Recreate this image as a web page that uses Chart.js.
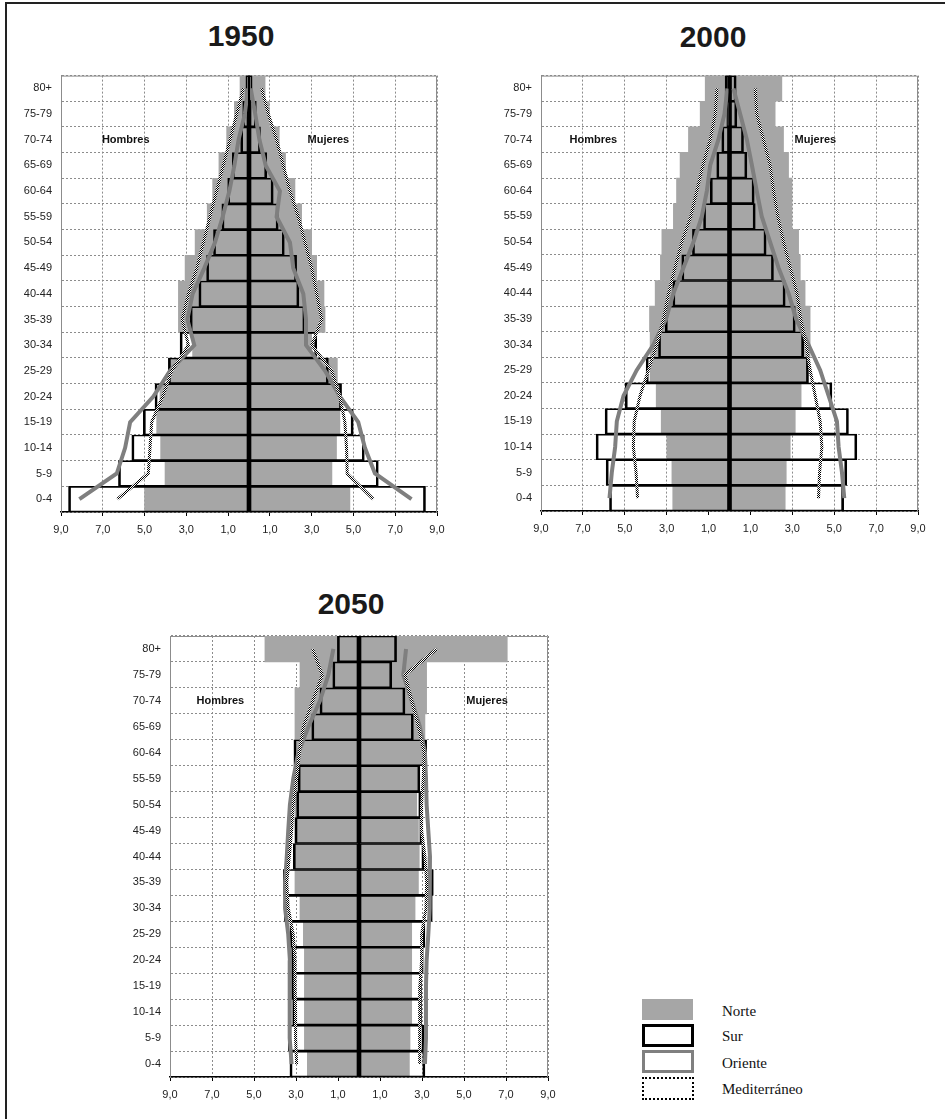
<!DOCTYPE html>
<html>
<head>
<meta charset="utf-8">
<script src="https://cdn.jsdelivr.net/npm/chart.js@4.4.1/dist/chart.umd.min.js"></script>
<style>
  body { margin: 0; background: #fff; }
  #page { position: relative; width: 945px; height: 1119px; overflow: hidden; background: #fff; }
  #frame { position: absolute; left: 5px; top: 2px; width: 960px; height: 1140px; border-left: 2px solid #222; border-top: 2px solid #222; }
  canvas { position: absolute; }
  .title { position: absolute; width: 200px; text-align: center; font: bold 30px "Liberation Sans", Arial, sans-serif; color: #1a1a1a; line-height: 36px; }
  .sw { position: absolute; left: 642px; width: 52px; height: 23px; box-sizing: border-box; }
  .lt { position: absolute; left: 722px; font: 15px "Liberation Serif", "Times New Roman", serif; color: #111; line-height: 20px; }
</style>
</head>
<body>
<div id="page">
  <div id="frame"></div>
  <div class="title" style="left:141px;top:18px">1950</div>
  <div class="title" style="left:613px;top:19px">2000</div>
  <div class="title" style="left:251px;top:586px">2050</div>

  <canvas id="c1950" width="460" height="480" style="left:0;top:60px"></canvas>
  <canvas id="c2000" width="470" height="480" style="left:470px;top:60px"></canvas>
  <canvas id="c2050" width="460" height="490" style="left:110px;top:620px"></canvas>

  <div class="sw" style="top:999px;height:21px;width:51px;background:#a6a6a6"></div>
  <div class="lt" style="top:1001px">Norte</div>
  <div class="sw" style="top:1024px;border:3px solid #000;background:#fff"></div>
  <div class="lt" style="top:1026px">Sur</div>
  <div class="sw" style="top:1050px;border:3px solid #808080;background:#fff"></div>
  <div class="lt" style="top:1053px">Oriente</div>
  <div class="sw" style="top:1077px;border:2px dotted #000;background:#fff"></div>
  <div class="lt" style="top:1079px">Mediterráneo</div>
</div>

<script>
// age groups, top of the pyramid first
const ages = ['80+', '75-79', '70-74', '65-69', '60-64', '55-59', '50-54', '45-49', '40-44',
              '35-39', '30-34', '25-29', '20-24', '15-19', '10-14', '5-9', '0-4'];
const xTicks = [-9, -7, -5, -3, -1, 1, 3, 5, 7, 9];

// ── 1950 (% of population, H = hombres, M = mujeres) ──
const norte1950H = [0.43, 0.70, 1.07, 1.44, 1.74, 2.00, 2.58, 3.06, 3.38, 3.38, 2.70, 3.85, 4.26, 4.42, 4.23, 4.02, 5.00];
const norte1950M = [0.77, 0.97, 1.45, 1.75, 2.20, 2.52, 3.00, 3.24, 3.59, 3.64, 3.00, 4.23, 4.43, 4.35, 4.19, 3.97, 4.83];
const sur1950H = [0.15, 0.30, 0.40, 0.80, 1.02, 1.30, 1.70, 2.03, 2.40, 2.82, 3.30, 3.86, 4.50, 5.06, 5.61, 6.25, 8.64];
const sur1950M = [0.15, 0.35, 0.55, 0.85, 1.16, 1.40, 1.69, 2.28, 2.39, 2.68, 3.24, 3.80, 4.43, 4.99, 5.52, 6.19, 8.45];
const oriente1950H = [0.05, 0.20, 0.50, 0.70, 0.94, 1.26, 1.63, 2.14, 2.70, 2.95, 2.62, 3.78, 4.58, 5.69, 5.93, 6.33, 8.12];
const oriente1950M = [0.08, 0.30, 0.50, 0.80, 1.48, 1.32, 1.96, 2.12, 2.60, 2.73, 2.73, 3.64, 4.35, 5.23, 5.55, 6.03, 7.78];
const medit1950H = [0.27, 0.59, 0.91, 1.23, 1.55, 1.87, 2.18, 2.50, 2.90, 3.20, 2.90, 3.70, 4.13, 4.66, 4.74, 4.82, 6.30];
const medit1950M = [0.60, 0.93, 1.32, 1.64, 1.96, 2.36, 2.68, 3.00, 3.24, 3.48, 3.00, 3.96, 4.35, 4.59, 4.67, 4.70, 5.95];

// ── 2000 ──
const norte2000H = [1.16, 1.40, 1.96, 2.36, 2.53, 2.68, 3.23, 3.30, 3.55, 3.82, 3.79, 3.79, 3.50, 3.26, 2.99, 2.75, 2.71];
const norte2000M = [2.50, 2.18, 2.58, 2.82, 2.98, 2.98, 3.30, 3.38, 3.61, 3.85, 3.85, 3.77, 3.42, 3.14, 2.90, 2.71, 2.66];
const sur2000H = [0.21, 0.13, 0.37, 0.61, 0.92, 1.24, 1.77, 2.28, 2.71, 3.07, 3.39, 3.98, 4.98, 5.94, 6.37, 5.89, 5.73];
const sur2000M = [0.32, 0.35, 0.67, 0.83, 1.18, 1.23, 1.75, 2.10, 2.66, 3.14, 3.54, 3.77, 4.89, 5.68, 6.08, 5.60, 5.45];
const oriente2000H = [0.10, 0.24, 0.53, 0.92, 1.08, 1.32, 1.72, 2.20, 2.68, 3.03, 3.63, 4.43, 5.06, 5.38, 5.46, 5.62, 5.73];
const oriente2000M = [0.19, 0.51, 0.83, 1.07, 1.30, 1.54, 1.94, 2.34, 2.82, 3.18, 3.77, 4.33, 4.73, 5.13, 5.21, 5.37, 5.48];
const medit2000H = [0.60, 0.68, 0.92, 1.27, 1.56, 1.85, 2.28, 2.60, 2.91, 3.15, 3.47, 3.87, 4.27, 4.55, 4.59, 4.46, 4.39];
const medit2000M = [1.23, 1.30, 1.62, 1.94, 2.10, 2.31, 2.58, 2.90, 3.22, 3.40, 3.66, 3.85, 4.09, 4.33, 4.41, 4.30, 4.25];

// ── 2050 ──
const norte2050H = [4.48, 2.81, 3.05, 3.05, 3.05, 3.05, 3.05, 3.05, 3.05, 3.05, 2.81, 2.65, 2.60, 2.60, 2.60, 2.60, 2.46];
const norte2050M = [7.06, 3.22, 3.22, 3.14, 3.06, 2.83, 2.75, 2.83, 2.87, 2.83, 2.67, 2.51, 2.51, 2.51, 2.51, 2.43, 2.40];
const sur2050H = [1.03, 1.25, 1.86, 2.25, 3.10, 2.90, 2.97, 3.05, 3.13, 3.60, 3.56, 3.29, 3.21, 3.21, 3.16, 3.37, 3.29];
const sur2050M = [1.79, 1.56, 2.19, 2.59, 3.22, 2.90, 2.95, 3.00, 3.10, 3.54, 3.49, 3.14, 3.06, 2.98, 2.98, 3.10, 3.14];
const oriente2050H = [1.22, 1.46, 1.86, 2.41, 2.89, 3.13, 3.29, 3.37, 3.44, 3.52, 3.52, 3.37, 3.29, 3.29, 3.32, 3.29, 3.21];
const oriente2050M = [2.24, 2.11, 2.51, 2.90, 3.14, 3.19, 3.22, 3.30, 3.38, 3.38, 3.35, 3.30, 3.22, 3.19, 3.19, 3.19, 3.14];
const medit2050H = [2.21, 1.75, 2.20, 2.65, 2.84, 2.97, 3.13, 3.21, 3.32, 3.44, 3.37, 3.13, 3.05, 3.05, 3.02, 3.02, 2.97];
const medit2050M = [3.70, 2.19, 2.51, 2.83, 3.10, 3.06, 2.98, 2.98, 3.14, 3.22, 3.19, 2.98, 2.98, 2.90, 2.90, 2.90, 2.87];

const FONT = '"Liberation Sans", Arial, sans-serif';
const GRID = '#8c8c8c';
const neg = a => a.map(v => -v);

// black/white stipple for the Mediterráneo line
const stipple = (() => {
    const c = document.createElement('canvas');
    c.width = 2; c.height = 2;
    const g = c.getContext('2d');
    g.fillStyle = '#fff'; g.fillRect(0, 0, 2, 2);
    g.fillStyle = '#000'; g.fillRect(0, 0, 1, 1); g.fillRect(1, 1, 1, 1);
    return g.createPattern(c, 'repeat');
})();

function norteBar(data) {
    return { label: 'Norte', data, backgroundColor: '#a6a6a6', borderWidth: 0,
             grouped: false, barPercentage: 1, categoryPercentage: 1, order: 3 };
}
function surBar(data) {
    return { label: 'Sur', data, backgroundColor: 'rgba(0,0,0,0)', borderColor: '#000',
             borderWidth: { top: 1, bottom: 1, left: 2, right: 2 }, borderSkipped: false,
             grouped: false, barPercentage: 1, categoryPercentage: 1, order: 2 };
}
function line(label, data, color, width, order) {
    return { type: 'line', label, data, indexAxis: 'y', borderColor: color, borderWidth: width,
             pointRadius: 0, tension: 0, fill: false, order };
}

// plot frame, centre axis and the Hombres / Mujeres captions
const decor = {
    id: 'decor',
    beforeDatasetsDraw(chart) {
        const { ctx, chartArea: a } = chart;
        ctx.save();
        ctx.strokeStyle = GRID; ctx.lineWidth = 1;
        ctx.beginPath();
        ctx.moveTo(a.left, a.top + 0.5);
        ctx.lineTo(a.right - 0.5, a.top + 0.5);
        ctx.lineTo(a.right - 0.5, a.bottom);
        ctx.stroke();
        ctx.restore();
    },
    afterDatasetsDraw(chart, args, opts) {
        const { ctx, chartArea: a, scales: { x, y } } = chart;
        const x0 = x.getPixelForValue(0);
        ctx.save();
        ctx.strokeStyle = '#000'; ctx.lineWidth = 2;
        ctx.beginPath(); ctx.moveTo(x0, a.top); ctx.lineTo(x0, a.bottom); ctx.stroke();
        ctx.font = 'bold 11px ' + FONT;
        ctx.fillStyle = '#111'; ctx.textAlign = 'center'; ctx.textBaseline = 'middle';
        const yy = y.getPixelForValue(ages.indexOf(opts.row));
        ctx.fillText('Hombres', x.getPixelForValue(opts.hombres), yy);
        ctx.fillText('Mujeres', x.getPixelForValue(opts.mujeres), yy);
        ctx.restore();
    }
};

function pyramid(id, s, layout) {
    return new Chart(document.getElementById(id), {
        type: 'bar',
        data: {
            labels: ages,
            datasets: [
                norteBar(neg(s.norteH)), norteBar(s.norteM),
                surBar(neg(s.surH)), surBar(s.surM),
                line('Oriente', neg(s.orienteH), '#7f7f7f', 4, 1),
                line('Oriente', s.orienteM, '#7f7f7f', 4, 1),
                line('Mediterráneo', neg(s.meditH), stipple, 3, 0),
                line('Mediterráneo', s.meditM, stipple, 3, 0)
            ]
        },
        plugins: [decor],
        options: {
            responsive: false,
            animation: false,
            indexAxis: 'y',
            layout: { padding: layout.padding },
            plugins: {
                legend: { display: false },
                tooltip: { enabled: false },
                decor: layout.words
            },
            scales: {
                x: {
                    type: 'linear', min: -9, max: 9,
                    afterBuildTicks: sc => { sc.ticks = xTicks.map(v => ({ value: v })); },
                    afterFit: sc => { sc.height = 24; },
                    ticks: { callback: v => Math.abs(v).toFixed(1).replace('.', ','),
                             font: { size: 11, family: FONT }, color: '#222', padding: 7,
                             maxRotation: 0, autoSkip: false },
                    grid: { color: GRID, tickColor: '#000', tickLength: 4 },
                    border: { color: '#000', width: 1.5, dash: [2, 2] }
                },
                y: {
                    type: 'category',
                    afterFit: sc => { sc.width = layout.yWidth; },
                    ticks: { font: { size: 11, family: FONT }, color: '#222', padding: 9, autoSkip: false },
                    grid: { color: GRID, drawTicks: false, offset: true },
                    border: { color: GRID, dash: [2, 2] }
                }
            }
        }
    });
}

pyramid('c1950',
    { norteH: norte1950H, norteM: norte1950M, surH: sur1950H, surM: sur1950M,
      orienteH: oriente1950H, orienteM: oriente1950M, meditH: medit1950H, meditM: medit1950M },
    { padding: { left: 0, top: 14, right: 23, bottom: 4 }, yWidth: 61,
      words: { row: '70-74', hombres: -5.9, mujeres: 3.8 } });

pyramid('c2000',
    { norteH: norte2000H, norteM: norte2000M, surH: sur2000H, surM: sur2000M,
      orienteH: oriente2000H, orienteM: oriente2000M, meditH: medit2000H, meditM: medit2000M },
    { padding: { left: 0, top: 12, right: 22, bottom: 5 }, yWidth: 71,
      words: { row: '70-74', hombres: -6.5, mujeres: 4.1 } });

pyramid('c2050',
    { norteH: norte2050H, norteM: norte2050M, surH: sur2050H, surM: sur2050M,
      orienteH: oriente2050H, orienteM: oriente2050M, meditH: medit2050H, meditM: medit2050M },
    { padding: { left: 0, top: 16, right: 22, bottom: 9 }, yWidth: 60,
      words: { row: '70-74', hombres: -6.6, mujeres: 6.1 } });
</script>
</body>
</html>
